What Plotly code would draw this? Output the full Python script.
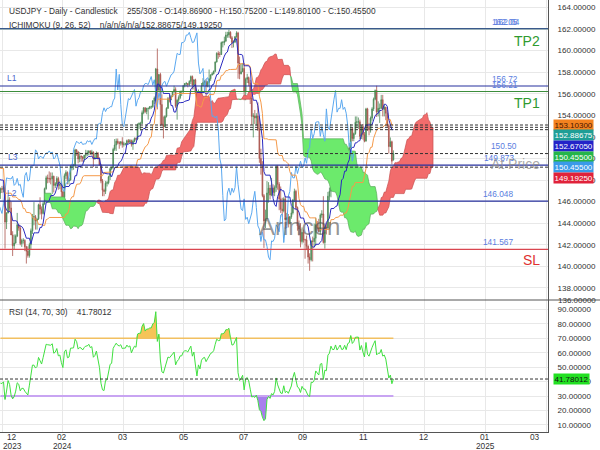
import numpy as np
import pandas as pd
import plotly.graph_objects as go

# ---------------- data: USDJPY daily OHLC ----------------
# first 25 bars (Oct 30 - Dec 1 2023) are history before the visible window (Dec 4 2023 - Dec 2 2024)
n_history = 25
opens = [
    149.60,149.10,151.65,150.95,150.45,149.40,150.05,150.40,150.95,151.35,151.50,151.70,150.40,151.35,150.75,149.60,148.35,148.20,149.55,149.55,149.45,148.65,147.45,147.20,148.20,
    146.80,147.20,147.15,147.30,144.10,144.95,146.15,145.40,142.90,141.90,142.15,142.80,143.85,143.55,142.10,142.40,142.40,141.80,141.40,
    141.00,142.00,143.30,144.60,144.60,144.20,144.40,145.70,145.30,144.90,145.80,147.20,148.20,148.15,148.10,148.10,148.35,147.50,147.65,148.15,147.50,147.60,
    146.90,146.40,148.40,148.70,147.90,148.00,149.30,149.30,149.35,150.80,150.60,149.95,150.20,150.15,150.00,150.30,150.50,150.50,150.70,150.50,150.60,
    149.95,150.10,150.50,150.00,149.40,147.90,147.05,146.95,147.70,147.75,148.30,149.05,149.15,150.85,151.25,151.60,151.45,151.40,151.55,151.30,151.35,
    151.35,151.65,151.55,151.65,151.30,151.60,151.85,151.80,153.15,153.25,153.25,154.25,154.70,154.35,154.65,154.65,154.80,154.80,155.35,155.60,158.30,156.35,
    157.80,155.00,153.15,152.95,153.90,154.65,155.55,155.45,155.75,156.20,156.40,154.85,155.40,155.65,156.20,156.20,156.75,156.95,156.95,156.85,157.15,157.60,156.80,
    157.30,156.10,154.80,156.10,155.60,156.75,157.05,157.15,156.70,157.05,157.40,157.75,157.85,158.10,158.95,159.75,159.65,159.65,160.75,160.75,
    160.90,161.45,161.45,161.70,161.20,160.75,160.80,161.30,161.65,158.85,157.85,158.05,158.35,156.20,157.35,157.50,157.00,155.60,153.90,153.95,153.75,153.95,152.75,
    150.00,149.35,146.55,144.20,144.40,146.80,147.25,146.60,147.25,146.85,147.30,149.25,147.60,146.25,145.30,145.15,146.25,144.35,144.55,143.95,144.60,144.95,
    146.15,146.95,145.45,143.75,143.45,142.30,143.15,142.45,142.45,141.85,140.85,140.60,142.35,142.30,142.60,143.85,143.60,143.20,144.75,144.85,142.20,
    143.65,143.55,146.50,146.95,148.70,148.20,148.20,149.30,148.60,149.15,149.75,149.20,149.25,150.05,149.55,150.80,151.00,152.75,151.85,152.30,153.35,153.40,153.40,
    152.05,152.95,152.20,151.60,154.60,152.95,152.65,153.75,154.60,155.50,156.30,154.30,154.65,154.65,155.45,154.55,154.75,154.20,153.05,151.10,151.55,
    149.869]
highs = [
    149.75,151.70,151.72,151.05,150.60,150.15,150.55,151.00,151.45,151.60,151.91,151.75,151.40,151.40,150.80,149.70,148.60,149.70,149.75,149.70,149.55,148.80,147.75,148.50,148.30,
    147.30,147.45,147.50,147.35,145.00,146.55,146.40,146.00,143.25,142.95,142.95,144.95,143.90,143.75,142.55,142.60,142.50,141.90,141.85,
    142.20,143.50,144.85,145.95,144.75,144.30,145.80,146.40,145.55,146.00,147.30,148.40,148.50,148.80,148.70,148.70,148.40,147.80,148.35,148.30,147.90,147.80,
    147.00,148.60,148.90,148.80,148.20,149.40,149.50,149.50,150.90,150.85,150.70,150.60,150.30,150.20,150.30,150.80,150.75,150.75,150.75,150.80,150.65,
    150.50,150.65,150.60,150.10,149.50,148.10,147.20,147.90,147.90,148.40,149.15,149.25,151.00,151.80,151.85,151.85,151.60,151.60,151.97,151.55,151.45,
    151.75,151.80,151.80,151.75,151.75,151.95,151.95,153.25,153.35,153.40,154.45,154.75,154.75,154.70,154.70,154.85,154.90,155.40,155.75,158.40,160.20,157.80,
    157.95,155.95,153.90,154.00,154.75,155.70,155.90,155.90,156.25,156.75,156.60,155.50,155.85,156.30,156.30,156.80,157.00,157.10,157.00,157.25,157.70,157.70,157.20,
    157.40,156.20,156.40,156.20,157.00,157.45,157.25,157.35,157.20,158.25,157.80,158.00,158.15,159.00,159.85,159.95,159.90,160.85,160.90,161.30,
    161.75,161.75,161.95,161.80,161.35,160.95,161.35,161.80,161.75,159.45,158.80,158.85,158.85,157.50,157.85,157.60,157.30,155.85,154.20,154.50,154.20,155.20,153.90,
    150.90,149.75,146.70,145.25,147.90,147.80,147.55,148.20,147.60,147.50,149.40,149.40,147.80,147.40,146.35,146.40,146.50,144.95,144.85,144.65,145.55,146.25,
    147.20,147.10,145.55,144.25,144.00,143.60,143.40,142.55,142.85,141.95,141.20,142.40,142.75,143.95,144.50,144.20,144.40,144.90,145.20,146.50,143.00,
    144.05,146.90,147.30,149.05,149.10,148.40,149.45,149.55,149.25,149.90,149.85,149.75,150.30,150.30,151.00,151.45,153.20,152.85,152.40,153.90,153.90,153.80,153.60,
    153.10,153.20,152.45,154.70,154.70,153.30,153.90,154.75,155.65,156.40,156.75,155.30,155.10,155.90,155.90,155.00,154.80,154.50,153.20,151.95,151.65,
    150.752]
lows = [
    148.80,149.00,150.80,150.10,149.20,149.10,149.95,150.30,150.75,151.00,151.45,150.15,150.20,150.70,149.20,148.10,147.15,148.10,149.30,149.30,148.55,147.40,146.67,147.15,146.65,
    146.25,146.80,146.85,141.64,143.45,144.90,145.05,142.90,140.95,141.55,142.10,142.70,143.30,141.95,141.80,142.10,141.40,140.25,140.80,
    140.80,141.60,143.00,143.80,143.40,143.40,144.30,144.80,144.35,144.80,145.70,147.10,147.70,147.75,147.60,146.70,146.85,147.25,147.45,147.10,147.15,146.40,
    145.90,145.90,148.10,147.60,147.60,147.95,148.90,148.95,149.20,150.25,149.55,149.65,149.70,149.70,149.70,150.00,150.20,150.30,150.30,150.30,149.20,
    149.90,150.00,149.90,149.35,147.70,146.50,146.50,146.70,147.40,147.60,148.00,148.90,149.05,150.70,150.70,151.30,150.90,151.20,151.00,151.10,151.20,
    151.25,151.40,151.40,151.10,150.80,151.50,151.70,151.70,152.75,152.60,153.20,154.10,154.20,154.10,153.60,154.55,154.60,154.70,155.05,155.40,154.55,156.20,
    153.00,153.05,151.86,152.90,153.80,154.60,155.20,155.40,155.70,156.10,154.70,153.60,155.20,155.50,155.80,156.00,156.60,156.70,156.60,156.70,156.90,156.40,156.40,
    156.00,154.55,154.60,155.40,155.50,156.70,156.80,155.70,156.60,156.60,157.20,157.70,157.80,158.00,158.90,159.25,159.40,159.60,160.30,160.50,
    160.80,161.20,161.20,161.10,160.25,160.30,160.70,161.20,157.40,157.35,157.80,158.05,155.40,155.40,157.00,156.70,155.05,153.10,151.95,153.20,153.05,152.55,149.60,
    148.50,146.40,141.70,143.55,144.40,145.90,146.20,146.50,146.55,146.50,146.90,147.10,145.20,144.95,144.60,145.00,143.45,143.80,143.60,143.90,144.40,144.80,
    145.95,145.20,143.30,142.85,141.75,142.10,142.20,140.70,141.50,140.25,139.58,140.45,140.45,141.80,141.90,143.30,143.15,142.95,144.50,142.10,141.635,
    142.95,143.40,146.10,146.40,147.90,147.35,148.10,148.30,148.55,149.00,148.85,149.10,149.00,149.35,149.40,150.60,150.90,151.60,151.60,152.20,152.90,152.75,151.80,
    151.80,151.75,151.50,151.60,152.55,152.15,152.40,153.50,154.40,155.40,153.85,153.90,153.30,154.60,153.90,153.90,153.55,152.90,150.45,151.05,149.45,
    149.801]
closes = [
    149.10,151.65,150.95,150.45,149.40,150.05,150.40,150.95,151.35,151.50,151.70,150.40,151.35,150.75,149.60,148.35,148.20,149.55,149.55,149.45,148.65,147.45,147.20,148.20,146.80,
    147.20,147.15,147.30,144.10,144.95,146.15,145.40,142.90,141.90,142.15,142.80,143.85,143.55,142.10,142.40,142.40,141.80,141.40,141.00,
    142.00,143.30,144.60,144.60,144.20,144.40,145.70,145.30,144.90,145.80,147.20,148.20,148.15,148.10,148.10,148.35,147.50,147.65,148.15,147.50,147.60,146.90,
    146.40,148.40,148.70,147.90,148.00,149.30,149.30,149.35,150.80,150.60,149.95,150.20,150.15,150.00,150.30,150.50,150.50,150.70,150.50,150.60,149.95,
    150.10,150.50,150.00,149.40,147.90,147.05,146.95,147.70,147.75,148.30,149.05,149.15,150.85,151.25,151.60,151.45,151.40,151.55,151.30,151.35,151.35,
    151.65,151.55,151.65,151.30,151.60,151.85,151.80,153.15,153.25,153.25,154.25,154.70,154.35,154.65,154.65,154.80,154.80,155.35,155.60,158.30,156.35,157.80,
    155.00,153.15,152.95,153.90,154.65,155.55,155.45,155.75,156.20,156.40,154.85,155.40,155.65,156.20,156.20,156.75,156.95,156.95,156.85,157.15,157.60,156.80,157.30,
    156.10,154.80,156.10,155.60,156.75,157.05,157.15,156.70,157.05,157.40,157.75,157.85,158.10,158.95,159.75,159.65,159.65,160.75,160.75,160.90,
    161.45,161.45,161.70,161.20,160.75,160.80,161.30,161.65,158.85,157.85,158.05,158.35,156.20,157.35,157.50,157.00,155.60,153.90,153.95,153.75,153.95,152.75,150.00,
    149.35,146.55,144.20,144.40,146.80,147.25,146.60,147.25,146.85,147.30,149.25,147.60,146.25,145.30,145.15,146.25,144.35,144.55,143.95,144.60,144.95,146.15,
    146.95,145.45,143.75,143.45,142.30,143.15,142.45,142.45,141.85,140.85,140.60,142.35,142.30,142.60,143.85,143.60,143.20,144.75,144.85,142.20,143.65,
    143.55,146.50,146.95,148.70,148.20,148.20,149.30,148.60,149.15,149.75,149.20,149.25,150.05,149.55,150.80,151.00,152.75,151.85,152.30,153.35,153.40,153.40,152.05,
    152.95,152.20,151.60,154.60,152.95,152.65,153.75,154.60,155.50,156.30,154.30,154.65,154.65,155.45,154.55,154.75,154.20,153.05,151.10,151.55,149.75,
    150.455]

# x-axis grid positions (bar index) and their labels
grid_bars = [1.47, 40.6, 80.7, 120.5, 160.1, 199.0, 238.3, 278.1, 318.6, 358.2]
month_labels = ["12", "02", "03", "05", "07", "09", "11", "12", "01", "03"]
year_labels = ["2023", "2024", "", "", "", "", "", "", "2025", ""]

# indicator settings
tenkan_len, kijun_len, spanb_len, displacement = 9, 26, 52, 26
cloud_first_bar = 3
rsi_len, rsi_hi, rsi_lo = 14, 70, 30
rsi_current = 41.78012

# horizontal levels
level_values = [162.04, 162.05, 156.72, 156.21, 149.373, 146.048, 141.567]
level_colors = ["#3d7f6a", "#3a5a8c", "#27309e", "#3c8d3c", "#27309e", "#27309e", "#d9464f"]
dashed_values = [153.103, 152.88675, 152.6705, 150.455, 149.1925]
value_label_texts = ["162.05", "162.04", "156.72", "156.21", "150.50", "149.873", "146.048", "141.567"]
value_label_levels = [162.05, 162.04, 156.72, 156.21, 150.50, 149.373, 146.048, 141.567]
box_texts = ["153.10300", "152.88675", "152.67050", "150.45500", "150.45500", "149.19250"]
box_colors = ["#f4821f", "#1e9e96", "#2323c8", "#25b54a", "#3a9ae8", "#e0223a"]
box_font_colors = ["#4a1500", "white", "white", "white", "white", "white"]

# ---------------- calculations ----------------
N = len(closes)
assert len(opens) == N and len(highs) == N and len(lows) == N
idx = np.arange(N) - n_history
df = pd.DataFrame({"o": opens, "h": highs, "l": lows, "c": closes})


def mid(n):
    return (df.h.rolling(n, min_periods=1).max() + df.l.rolling(n, min_periods=1).min()) / 2


tenkan = mid(tenkan_len).values
kijun = mid(kijun_len).values
span_a = (tenkan + kijun) / 2
span_b = mid(spanb_len).values

delta = df.c.diff().fillna(0)
gain = delta.clip(lower=0).ewm(alpha=1 / rsi_len, adjust=False).mean()
loss = (-delta.clip(upper=0)).ewm(alpha=1 / rsi_len, adjust=False).mean()
rsi = (100 - 100 / (1 + gain / loss.replace(0, np.nan))).fillna(50).values

# ---------------- geometry helpers (layout only) ----------------
PW, PH = 548.0, 432.0
SPLIT = 300.0


def px(x):
    return x / PW


def py(y):
    return 1 - y / PH


FONT = "Liberation Sans, Arial, sans-serif"
fig = go.Figure()

# ---- Ichimoku cloud ----
m = idx >= cloud_first_bar
cx = (idx + displacement)[m].astype(float)
ca = span_a[m]
cb = span_b[m]
segs = []
cur = None
for i in range(len(cx)):
    up = ca[i] >= cb[i]
    if cur is None:
        cur = {"up": up, "x": [cx[i]], "a": [ca[i]], "b": [cb[i]]}
    elif up != cur["up"]:
        d0 = ca[i - 1] - cb[i - 1]
        d1 = ca[i] - cb[i]
        t = d0 / (d0 - d1)
        xc = cx[i - 1] + t * (cx[i] - cx[i - 1])
        yc = ca[i - 1] + t * (ca[i] - ca[i - 1])
        cur["x"].append(xc); cur["a"].append(yc); cur["b"].append(yc)
        segs.append(cur)
        cur = {"up": up, "x": [xc, cx[i]], "a": [yc, ca[i]], "b": [yc, cb[i]]}
    else:
        cur["x"].append(cx[i]); cur["a"].append(ca[i]); cur["b"].append(cb[i])
segs.append(cur)
for s in segs:
    fill = "rgb(242,108,108)" if s["up"] else "rgb(108,234,108)"
    edge = "rgb(200,80,80)" if s["up"] else "rgb(90,170,90)"
    fig.add_trace(go.Scatter(x=s["x"] + s["x"][::-1], y=s["a"] + s["b"][::-1],
                             fill="toself", fillcolor=fill, mode="lines",
                             line=dict(color=edge, width=0.7), hoverinfo="skip",
                             showlegend=False, xaxis="x", yaxis="y"))

# ---- Chikou, Kijun, Tenkan ----
fig.add_trace(go.Scatter(x=idx - displacement, y=closes, mode="lines",
                         line=dict(color="#5aa8f0", width=1), hoverinfo="skip",
                         showlegend=False, xaxis="x", yaxis="y"))
fig.add_trace(go.Scatter(x=idx, y=kijun, mode="lines", line=dict(color="#f59a4a", width=1),
                         hoverinfo="skip", showlegend=False, xaxis="x", yaxis="y"))
fig.add_trace(go.Scatter(x=idx, y=tenkan, mode="lines", line=dict(color="#2a2ac0", width=1),
                         hoverinfo="skip", showlegend=False, xaxis="x", yaxis="y"))

# ---- candles ----
fig.add_trace(go.Candlestick(x=idx, open=opens, high=highs, low=lows, close=closes,
                             increasing=dict(line=dict(color="#4d8a58", width=0.8), fillcolor="#4d8a58"),
                             decreasing=dict(line=dict(color="#a9544c", width=0.8), fillcolor="#a9544c"),
                             whiskerwidth=0, hoverinfo="skip", showlegend=False,
                             xaxis="x", yaxis="y"))

# ---- RSI panel ----
vis = idx >= 0
xv = idx[vis]
rv = rsi[vis]
fig.add_trace(go.Scatter(x=xv, y=np.full(len(xv), rsi_hi), mode="lines", line=dict(width=0),
                         hoverinfo="skip", showlegend=False, xaxis="x2", yaxis="y2"))
fig.add_trace(go.Scatter(x=xv, y=np.maximum(rv, rsi_hi), mode="lines", line=dict(width=0),
                         fill="tonexty", fillcolor="rgba(245,190,70,0.9)",
                         hoverinfo="skip", showlegend=False, xaxis="x2", yaxis="y2"))
fig.add_trace(go.Scatter(x=xv, y=np.full(len(xv), rsi_lo), mode="lines", line=dict(width=0),
                         hoverinfo="skip", showlegend=False, xaxis="x2", yaxis="y2"))
fig.add_trace(go.Scatter(x=xv, y=np.minimum(rv, rsi_lo), mode="lines", line=dict(width=0),
                         fill="tonexty", fillcolor="rgba(160,112,235,0.9)",
                         hoverinfo="skip", showlegend=False, xaxis="x2", yaxis="y2"))
fig.add_trace(go.Scatter(x=xv, y=np.full(len(xv), rsi_hi), mode="lines",
                         line=dict(color="#f2c061", width=1.3),
                         hoverinfo="skip", showlegend=False, xaxis="x2", yaxis="y2"))
fig.add_trace(go.Scatter(x=xv, y=np.full(len(xv), rsi_lo), mode="lines",
                         line=dict(color="#c8a4f2", width=2),
                         hoverinfo="skip", showlegend=False, xaxis="x2", yaxis="y2"))
fig.add_trace(go.Scatter(x=xv, y=rv, mode="lines", line=dict(color="#3fe03f", width=1),
                         hoverinfo="skip", showlegend=False, xaxis="x2", yaxis="y2"))

# ---- shapes: levels ----
shapes = []
for v, c in zip(level_values, level_colors):
    shapes.append(dict(type="line", xref="x domain", yref="y", x0=0, x1=1, y0=v, y1=v,
                       line=dict(color=c, width=1.2)))
for v in dashed_values:
    shapes.append(dict(type="line", xref="x domain", yref="y", x0=0, x1=1, y0=v, y1=v,
                       line=dict(color="#333", width=1, dash="3px,2px")))
shapes.append(dict(type="line", xref="x2 domain", yref="y2", x0=0, x1=1, y0=rsi_current,
                   y1=rsi_current, line=dict(color="#333", width=1, dash="3px,2px")))
shapes.append(dict(type="line", xref="paper", yref="paper", x0=0, x1=600 / PW,
                   y0=py(SPLIT), y1=py(SPLIT), line=dict(color="#555", width=1)))

# ---- annotations ----
ann = []


def text(x, y, s, size=8.3, color="#333", xanchor="left", **kw):
    ann.append(dict(x=px(x), y=py(y), xref="paper", yref="paper", text=s, showarrow=False,
                    xanchor=xanchor, yanchor="middle", font=dict(family=FONT, size=size, color=color), **kw))


nb = "\u00a0"
text(7, 10.5, "USDJPY - Daily - Candlestick" + nb * 4 + "255/308 - O:149.86900 - H:150.75200 - L:149.80100 - C:150.45500")
text(7, 25, "ICHIMOKU (9, 26, 52)" + nb * 4 + "n/a/n/a/n/a/152.88675/149.19250")
text(7, 311.5, "RSI (14, 70, 30)" + nb * 4 + "41.78012")

# value labels above level lines
label_x = [505, 507, 504.5, 504.5, 504, 498.5, 498, 498]
for t, v, lx in zip(value_label_texts, value_label_levels, label_x):
    ann.append(dict(x=px(lx), y=v, xref="paper", yref="y", text=t, showarrow=False,
                    xanchor="center", yanchor="bottom", yshift=0,
                    font=dict(family=FONT, size=8.3, color="#5a7de0")))

text(5, 78, "L1", size=8.5, color="#4a66cc")
text(6, 157, "L3", size=8.5, color="#4a66cc")
text(5, 193, "L2", size=8.5, color="#4a66cc")
text(542, 41, "TP2", size=14, color="#2f9a2f", xanchor="right")
text(542, 103, "TP1", size=14, color="#2f9a2f", xanchor="right")
text(542, 164, "At Price", size=14, color="rgba(140,140,140,0.75)", xanchor="right")
text(542, 260, "SL", size=14, color="#e03030", xanchor="right")
text(299, 227, "Arincen", size=24, color="rgba(80,80,80,0.6)", xanchor="center")

# x labels
for b, ml, yl in zip([12, 62, 123, 184, 244, 303, 363, 424, 485, 535], month_labels, year_labels):
    text(b, 437, ml, size=8.3, xanchor="center")
    if yl:
        text(b, 446, yl, size=8.3, xanchor="center")

# price boxes
box_y = [124.7, 135.3, 146.0, 156.6, 167.2, 177.8]
for t, c, fc, yy in zip(box_texts, box_colors, box_font_colors, box_y):
    text(552.5, yy, t, size=8, color=fc, bgcolor=c, borderpad=0.5)
text(552.5, 379, "41.78012", size=8, color="#111", bgcolor="#22e022", borderpad=0.5)
text(556, 300.5, "136.00000", size=8, color="#333")

axis_common = dict(showgrid=True, gridcolor="#e8e8e8", gridwidth=1, zeroline=False)
fig.update_layout(
    width=600, height=450, autosize=False,
    margin=dict(l=0, r=52, t=0, b=18),
    paper_bgcolor="white", plot_bgcolor="white",
    showlegend=False,
    xaxis=dict(domain=[0, 1], range=[-0.3, 359.5], anchor="y", tickmode="array",
               tickvals=grid_bars, showticklabels=False, ticks="", showline=False,
               rangeslider=dict(visible=False), **axis_common),
    xaxis2=dict(domain=[0, 1], range=[-0.3, 359.5], anchor="y2", matches="x", tickmode="array",
                tickvals=grid_bars, showticklabels=False, ticks="", showline=True,
                linecolor="#555", linewidth=1, **axis_common),
    yaxis=dict(domain=[py(SPLIT), 1], range=[136.87, 164.70], side="right", anchor="x",
               tickmode="array", tickvals=list(range(138, 165, 2)), tickformat=".5f",
               ticks="", ticklabelstandoff=7, showline=True, linecolor="#555", linewidth=1,
               tickfont=dict(family=FONT, size=8, color="#333"), **axis_common),
    yaxis2=dict(domain=[0, py(SPLIT)], range=[5.1, 96.5], side="right", anchor="x2",
                tickmode="array", tickvals=list(range(10, 91, 10)), tickformat=".5f",
                ticks="", ticklabelstandoff=7, showline=True, linecolor="#555", linewidth=1,
                tickfont=dict(family=FONT, size=8, color="#333"), **axis_common),
    shapes=shapes,
    annotations=ann,
)

fig.write_html("out.html", config={"displayModeBar": False},
               post_script="document.body.style.margin='0';document.body.style.padding='0';")
